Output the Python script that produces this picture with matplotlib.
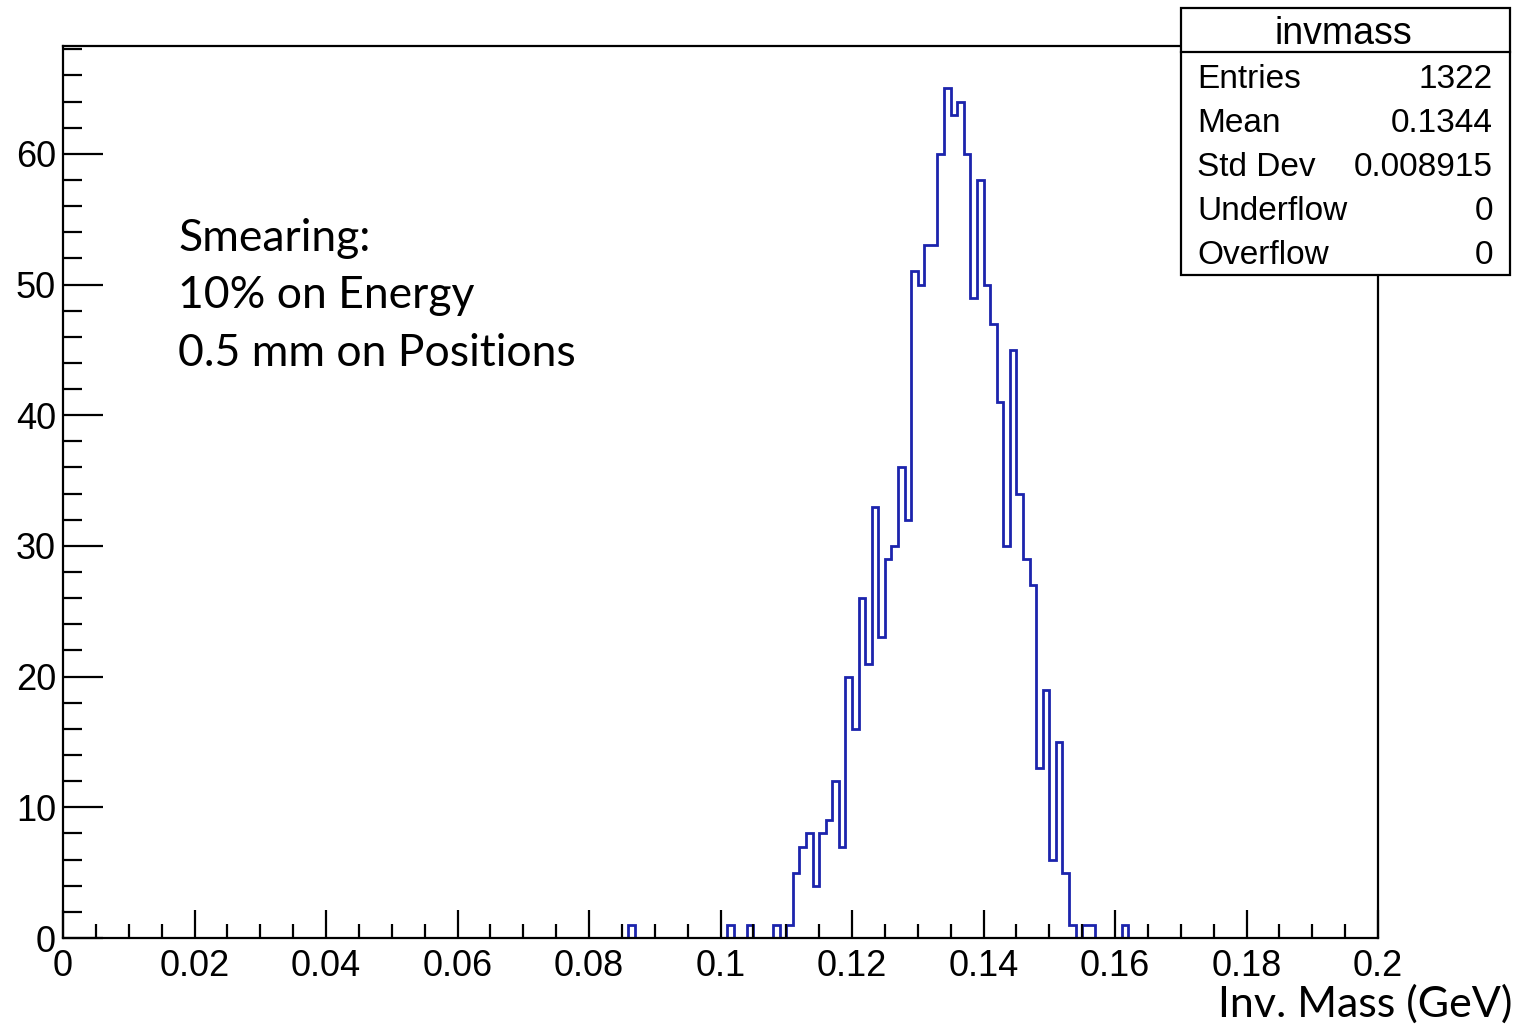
import numpy as np
import matplotlib.pyplot as plt
from matplotlib.patches import Rectangle
from matplotlib.ticker import MultipleLocator

# histogram binning: 200 bins between 0 and 0.2 GeV
n_bins = 200
x_min, x_max = 0.0, 0.2
first_bin = 86  # first bin index with entries

# counts per bin, starting at bin 86 (0.086 GeV) up to bin 161
counts = [1, 0, 0, 0, 0, 0, 0, 0, 0, 0, 0, 0, 0, 0, 0,   # 86-100
          1, 0, 0, 1, 0, 0, 0, 1, 0, 1,                  # 101-110
          5, 7, 8, 4, 8, 9, 12, 7, 20, 16,               # 111-120
          26, 21, 33, 23, 29, 30, 36, 32, 51, 50,        # 121-130
          53, 53, 60, 65, 63, 64, 60, 49, 58, 50,        # 131-140
          47, 41, 30, 45, 34, 29, 27, 13, 19, 6,         # 141-150
          15, 5, 1, 0, 1, 1, 0, 0, 0, 0,                 # 151-160
          1]                                             # 161

stat_names = ["Entries", "Mean", "Std Dev", "Underflow", "Overflow"]
stat_values = ["1322", "0.1344", "0.008915", "0", "0"]

smear_text = ["Smearing:", "10% on Energy", "0.5 mm on Positions"]

edges = np.linspace(x_min, x_max, n_bins + 1)
values = np.zeros(n_bins)
values[first_bin:first_bin + len(counts)] = counts

W, H = 1519, 1026
fig = plt.figure(figsize=(W / 100, H / 100), dpi=100)


def fx(px):
    return px / W


def fy(py):
    return 1 - py / H


ax = fig.add_axes([fx(63), fy(938), fx(1378) - fx(63), fy(46) - fy(938)])
ax.stairs(values, edges, color="#1c24ad", linewidth=2.0)
ax.set_xlim(x_min, x_max)
ax.set_ylim(0, 68.25)

ax.xaxis.set_major_locator(MultipleLocator(0.02))
ax.xaxis.set_minor_locator(MultipleLocator(0.005))
ax.yaxis.set_major_locator(MultipleLocator(10))
ax.yaxis.set_minor_locator(MultipleLocator(2))
ax.set_xticks(np.arange(0, 0.2001, 0.02))
ax.set_xticklabels(["0", "0.02", "0.04", "0.06", "0.08", "0.1", "0.12",
                    "0.14", "0.16", "0.18", "0.2"])

tick_font = "Liberation Sans"
ax.tick_params(axis="both", which="both", direction="in", top=False, right=False,
               width=1.6, labelsize=26, labelfontfamily=tick_font)
ax.tick_params(axis="x", which="major", length=20, pad=8)
ax.tick_params(axis="x", which="minor", length=10)
ax.tick_params(axis="y", which="major", length=29, pad=5)
ax.tick_params(axis="y", which="minor", length=14)
for s in ax.spines.values():
    s.set_linewidth(1.6)

# smearing annotation
for i, line in enumerate(smear_text):
    fig.text(fx(178), fy(251 + 57.5 * i), line, fontsize=32, family="Lato",
             ha="left", va="baseline")

fig.text(fx(1512), fy(1017), "Inv. Mass (GeV)", fontsize=31, family="Lato",
         ha="right", va="baseline")

# statistics box
box = Rectangle((fx(1181), fy(275)), fx(1510) - fx(1181), fy(8) - fy(275),
                transform=fig.transFigure, facecolor="white", edgecolor="black",
                linewidth=1.6, zorder=5)
fig.add_artist(box)
fig.add_artist(plt.Line2D([fx(1181), fx(1510)], [fy(52), fy(52)],
                          transform=fig.transFigure, color="black",
                          linewidth=1.6, zorder=6))
fig.text(fx(1343), fy(44), "invmass", fontsize=27, family=tick_font,
         ha="center", va="baseline", zorder=7)
for i, (name, val) in enumerate(zip(stat_names, stat_values)):
    yb = fy(88 + 44 * i)
    fig.text(fx(1197), yb, name, fontsize=24, family=tick_font,
             ha="left", va="baseline", zorder=7)
    fig.text(fx(1493), yb, val, fontsize=24, family=tick_font,
             ha="right", va="baseline", zorder=7)

fig.savefig("out.png", dpi=100)
